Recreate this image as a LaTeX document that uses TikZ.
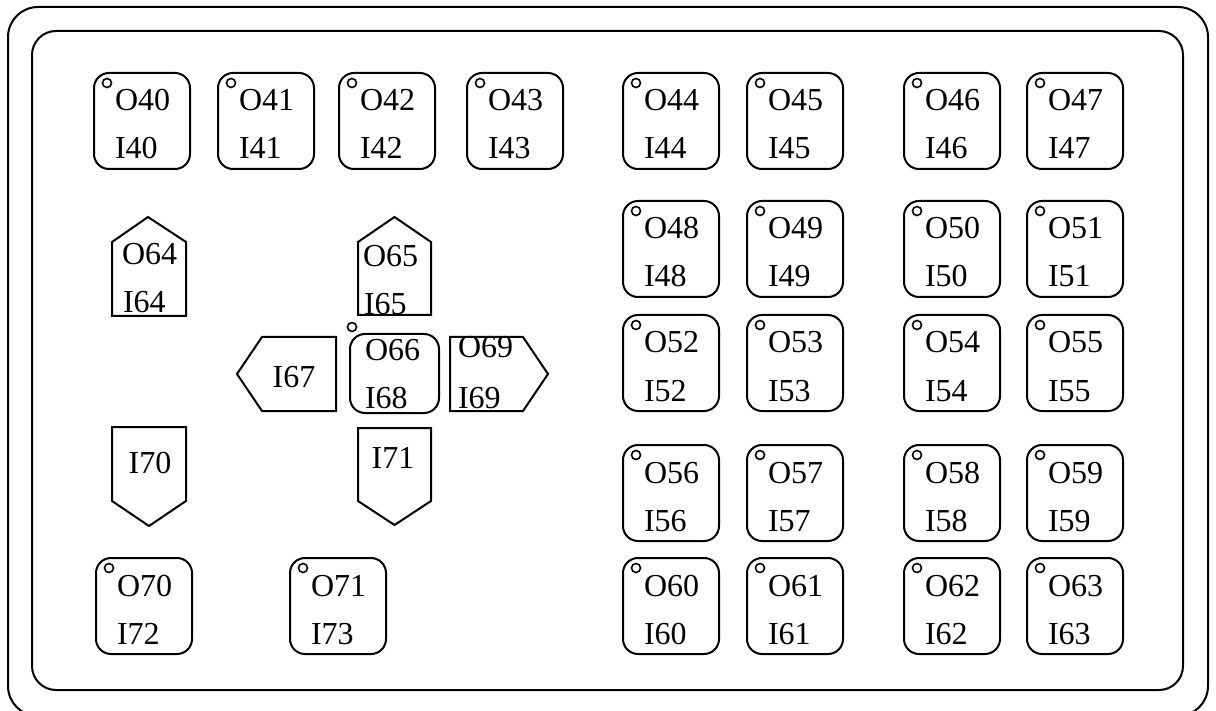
\documentclass[tikz,border=0pt]{standalone}
\usepackage{fontspec}
\setmainfont{Liberation Serif}
\newcommand\keyat[5]{%
  \node[keybox] (#1) at (#2,#3) {};
  \node[hole] (#1h) at ([xshift=14pt,yshift=-11pt]#1.north west) {};
  \node[lbl] (#1o) at ([xshift=21pt,yshift=-39pt]#1.north west) {#4};
  \node[lbl] (#1i) at ([xshift=21pt,yshift=-87pt]#1.north west) {#5};
}
\begin{document}
\begin{tikzpicture}[x=1pt,y=-1pt,line width=2pt,
  keybox/.style={draw,rounded corners=15pt,minimum width=96pt,minimum height=96pt,anchor=north west,inner sep=0pt},
  lbl/.style={font=\fontsize{32}{32}\selectfont,inner sep=0pt,anchor=base west},
  clbl/.style={font=\fontsize{32}{32}\selectfont,inner sep=0pt,anchor=base},
  hole/.style={draw,circle,minimum size=9pt,inner sep=0pt,line width=1.6pt},
  shapeline/.style={draw,line join=miter}]
\useasboundingbox (0,0) rectangle (1216,711);
\clip (0,0) rectangle (1216,711);
% frames
\draw[rounded corners=30pt] (8,7) rectangle (1208,716);
\draw[rounded corners=24pt] (32,31) rectangle (1183,690);
% row 1
\keyat{k40}{93}{72}{O40}{I40}
\keyat{k41}{217}{72}{O41}{I41}
\keyat{k42}{338}{72}{O42}{I42}
\keyat{k43}{466}{72}{O43}{I43}
\keyat{k44}{622}{72}{O44}{I44}
\keyat{k45}{746}{72}{O45}{I45}
\keyat{k46}{903}{72}{O46}{I46}
\keyat{k47}{1026}{72}{O47}{I47}
% row 2
\keyat{k48}{622}{200}{O48}{I48}
\keyat{k49}{746}{200}{O49}{I49}
\keyat{k50}{903}{200}{O50}{I50}
\keyat{k51}{1026}{200}{O51}{I51}
% row 3
\keyat{k52}{622}{314}{O52}{I52}
\keyat{k53}{746}{314}{O53}{I53}
\keyat{k54}{903}{314}{O54}{I54}
\keyat{k55}{1026}{314}{O55}{I55}
% row 4
\keyat{k56}{622}{444}{O56}{I56}
\keyat{k57}{746}{444}{O57}{I57}
\keyat{k58}{903}{444}{O58}{I58}
\keyat{k59}{1026}{444}{O59}{I59}
% row 5
\keyat{k60}{622}{557}{O60}{I60}
\keyat{k61}{746}{557}{O61}{I61}
\keyat{k62}{903}{557}{O62}{I62}
\keyat{k63}{1026}{557}{O63}{I63}
% bottom left keys
\keyat{k70}{95}{557}{O70}{I72}
\keyat{k71}{289}{557}{O71}{I73}
% O64 pentagon (up)
\draw[shapeline] (112,316) -- (112,242) -- (148,217) -- (186,242) -- (186,316) -- cycle;
\node[lbl] (t64o) at (121,265) {O64};
\node[lbl] (t64i) at (122,313) {I64};
% O65 pentagon (up)
\draw[shapeline] (358,315) -- (358,242) -- (394.5,217) -- (431,242) -- (431,315) -- cycle;
\node[lbl] (t65o) at (362,267) {O65};
\node[lbl] (t65i) at (363,315) {I65};
% I67 pentagon (left)
\draw[shapeline] (336,337) -- (262,337) -- (237,374) -- (262,411) -- (336,411) -- cycle;
\node[clbl] (t67) at (294,388) {I67};
% O66 key
\node[draw,rounded corners=15pt,minimum width=89pt,minimum height=79pt,anchor=north west,inner sep=0pt] (k66) at (349,333) {};
\node[hole] (k66h) at (352,327) {};
\node[lbl] (t66o) at (364,361) {O66};
\node[lbl] (t66i) at (364,408) {I68};
% O69 pentagon (right)
\draw[shapeline] (450,337) -- (523,337) -- (548,374) -- (523,411) -- (450,411) -- cycle;
\node[lbl] (t69o) at (457,358) {O69};
\node[lbl] (t69i) at (457,408) {I69};
% I70 pentagon (down)
\draw[shapeline] (112,427) -- (186,427) -- (186,501) -- (149,526) -- (112,501) -- cycle;
\node[clbl] (t70) at (150,473) {I70};
% I71 pentagon (down)
\draw[shapeline] (358,428) -- (431,428) -- (431,501) -- (394.5,525) -- (358,501) -- cycle;
\node[clbl] (t71) at (393,468) {I71};
\end{tikzpicture}
\end{document}
